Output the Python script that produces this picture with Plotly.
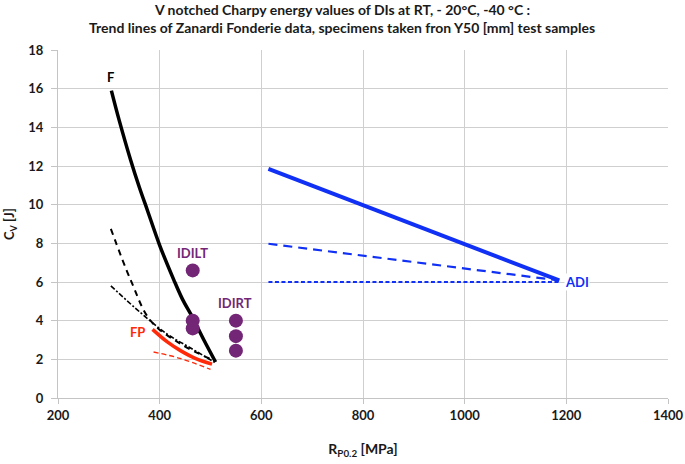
import plotly.graph_objects as go

# F curve (thick black solid)
f_x = [305, 320, 343, 360, 376, 400, 428, 445, 464, 487, 510]
f_y = [15.9, 14.4, 12.3, 10.9, 9.7, 7.9, 6.1, 5.1, 4.2, 3.0, 1.86]
# black long dash
fd_x = [304, 343, 382, 441, 506]
fd_y = [8.75, 6.1, 4.0, 2.8, 1.95]
# black dash-dot
fdd_x = [304, 363, 415, 460, 508]
fdd_y = [5.8, 4.4, 3.3, 2.6, 1.85]
# FP red thick
fp_x = [386, 415, 441, 470, 503]
fp_y = [3.55, 2.9, 2.45, 2.05, 1.75]
# FP red dashed
fpd_x = [388, 440, 500]
fpd_y = [2.38, 2.05, 1.48]
# IDILT points
idilt_x = [465, 465, 465]
idilt_y = [6.6, 4.0, 3.6]
# IDIRT points
idirt_x = [550, 550, 550]
idirt_y = [4.0, 3.2, 2.45]
# ADI lines
adi_x = [614, 1186]
adi_solid_y = [11.85, 6.08]
adi_dash_y = [7.98, 6.08]
adi_dot_y = [6.0, 6.0]

title_lines = ["V notched Charpy energy values of DIs at RT, - 20°C, -40 °C :",
               "Trend lines of Zanardi Fonderie data, specimens taken fron Y50 [mm] test samples"]

BLUE = "#1030f5"
RED = "#ff2a0a"
PURPLE = "#722675"
FONT = "Lato"
DARK = "#1a1a1a"

L, R, T, B = 58, 17, 50, 66
W, H = 685, 464
PLOT_W = float(W - L - R)
PLOT_H = float(H - T - B)

fig = go.Figure()
fig.add_trace(go.Scatter(x=f_x, y=f_y, mode="lines", line=dict(color="black", width=3.5, shape="spline", smoothing=1.0)))
fig.add_trace(go.Scatter(x=fd_x, y=fd_y, mode="lines", line=dict(color="black", width=2, dash="6px,5px", shape="spline")))
fig.add_trace(go.Scatter(x=fdd_x, y=fdd_y, mode="lines", line=dict(color="black", width=1.6, dash="5px,2px,2px,2px", shape="spline")))
fig.add_trace(go.Scatter(x=fp_x, y=fp_y, mode="lines", line=dict(color=RED, width=3.5, shape="spline")))
fig.add_trace(go.Scatter(x=fpd_x, y=fpd_y, mode="lines", line=dict(color=RED, width=1.3, dash="5px,3px", shape="spline")))
fig.add_trace(go.Scatter(x=adi_x, y=adi_solid_y, mode="lines", line=dict(color=BLUE, width=4)))
fig.add_trace(go.Scatter(x=adi_x, y=adi_dash_y, mode="lines", line=dict(color=BLUE, width=2.2, dash="9px,6px")))
fig.add_trace(go.Scatter(x=adi_x, y=adi_dot_y, mode="lines", line=dict(color=BLUE, width=2, dash="4px,2.5px")))
fig.add_trace(go.Scatter(x=idilt_x, y=idilt_y, mode="markers", marker=dict(color=PURPLE, size=14)))
fig.add_trace(go.Scatter(x=idirt_x, y=idirt_y, mode="markers", marker=dict(color=PURPLE, size=14)))

def lab(x, y, t, c, xanchor="center"):
    fig.add_annotation(x=x, y=y, text=t, showarrow=False, xanchor=xanchor,
                       font=dict(family=FONT, size=13, color=c, weight="bold"),
                       bgcolor="white", borderpad=0)

lab(303, 16.6, "F", "black")
lab(464, 7.5, "IDILT", PURPLE)
lab(548, 4.9, "IDIRT", PURPLE)
lab(356, 3.4, "FP", RED)
lab(1196, 6.0, "ADI", BLUE, xanchor="left")

for i, t in enumerate(title_lines):
    fig.add_annotation(xref="paper", yref="paper", x=(342 - L) / PLOT_W, y=1 + (40 - 18 * i) / PLOT_H,
                       text=t, showarrow=False, xanchor="center", yanchor="middle",
                       font=dict(family=FONT, size=14, color=DARK, weight="bold"))

fig.add_annotation(xref="paper", yref="paper", x=(10 - L) / PLOT_W, y=0.5, textangle=-90,
                   text="C<sub>V</sub> [J]", showarrow=False, xanchor="center", yanchor="middle",
                   font=dict(family=FONT, size=13, color=DARK, weight="bold"))

fig.update_layout(
    width=W, height=H,
    margin=dict(l=L, r=R, t=T, b=B, autoexpand=False),
    paper_bgcolor="white", plot_bgcolor="white",
    showlegend=False,
    font=dict(family=FONT, size=12, color=DARK),
)
fig.update_xaxes(range=[200, 1400], tickvals=[200, 400, 600, 800, 1000, 1200, 1400],
                 showgrid=True, gridcolor="#cfcfcf", gridwidth=1, automargin=False,
                 showline=True, linecolor="#c4c4c4", ticks="outside", ticklen=5, tickcolor="#c4c4c4",
                 tickfont=dict(family=FONT, size=13, color=DARK, weight="bold"), zeroline=False,
                 title=dict(text="R<sub>P0.2</sub> [MPa]", font=dict(family=FONT, size=14, color=DARK, weight="bold"), standoff=22))
fig.update_yaxes(range=[0, 18], tickvals=list(range(0, 19, 2)),
                 showgrid=True, gridcolor="#cfcfcf", gridwidth=1, automargin=False,
                 showline=True, linecolor="#c4c4c4", ticks="outside", ticklen=6, tickcolor="#c4c4c4",
                 ticklabelstandoff=5,
                 tickfont=dict(family=FONT, size=13, color=DARK, weight="bold"), zeroline=False)

# remove the default 8px page margin so the figure sits at the window's top-left corner
fig.write_html("out.html", config={"displayModeBar": False},
               post_script="document.body.style.margin='0px';")
